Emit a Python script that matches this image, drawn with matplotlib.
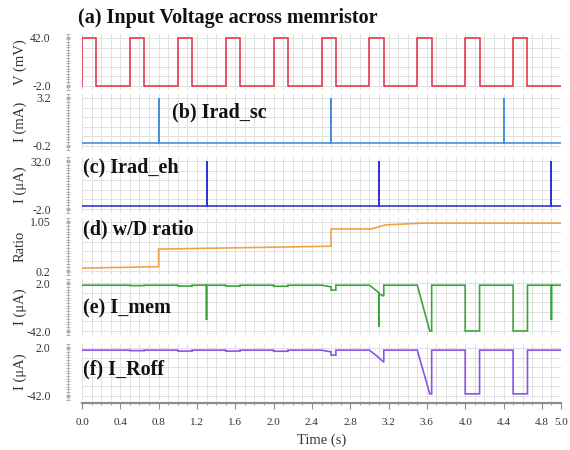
import numpy as np
import matplotlib
matplotlib.use('Agg')
import matplotlib.pyplot as plt
from matplotlib.ticker import MultipleLocator, FixedLocator

plt.rcParams['font.family'] = ['Liberation Serif', 'DejaVu Serif']

# ---------------- data ----------------
t_end = 5.0
pulse_on = [0.0, 0.5, 1.0, 1.5, 2.0, 2.5, 3.0, 3.5, 4.0, 4.5]
pulse_off = [0.15, 0.65, 1.15, 1.65, 2.15, 2.65, 3.15, 3.65, 4.15, 4.65]
v_high = 42.0
v_low = -2.0

sc_spike_t = [0.8, 2.6, 4.4]
sc_peak = 3.2
sc_base = 0.0

eh_spike_t = [1.3, 3.1, 4.9]
eh_peak = 32.0
eh_base = 0.0

ratio_t = [0.0, 0.8, 0.8, 2.6, 2.6, 3.02, 3.17, 3.55, 5.0]
ratio_v = [0.25, 0.275, 0.58, 0.63, 0.93, 0.93, 1.0, 1.03, 1.03]

imem_t = [0.0,
          0.5, 0.5, 0.65, 0.65,
          1.0, 1.0, 1.15, 1.15,
          1.3, 1.3, 1.3,
          1.5, 1.5, 1.65, 1.65,
          2.0, 2.0, 2.15, 2.15,
          2.5, 2.6, 2.6, 2.65, 2.65,
          3.0, 3.1, 3.1, 3.1, 3.15, 3.15,
          3.5, 3.63, 3.65, 3.65,
          4.0, 4.0, 4.15, 4.15,
          4.5, 4.5, 4.65, 4.65,
          4.9, 4.9, 4.9,
          5.0]
imem_v = [0.0,
          0.0, -0.4, -0.4, 0.0,
          0.0, -0.8, -0.8, 0.0,
          0.0, -32.0, 0.0,
          0.0, -0.8, -0.8, 0.0,
          0.0, -1.0, -1.0, 0.0,
          0.0, -1.5, -4.5, -4.5, 0.0,
          0.0, -7.0, -38.0, -8.0, -10.0, 0.0,
          0.0, -42.0, -42.0, 0.0,
          0.0, -42.0, -42.0, 0.0,
          0.0, -42.0, -42.0, 0.0,
          0.0, -32.0, 0.0,
          0.0]

iroff_t = [0.0,
           0.5, 0.5, 0.65, 0.65,
           1.0, 1.0, 1.15, 1.15,
           1.5, 1.5, 1.65, 1.65,
           2.0, 2.0, 2.15, 2.15,
           2.5, 2.6, 2.6, 2.65, 2.65,
           3.0, 3.08, 3.15, 3.15,
           3.5, 3.63, 3.65, 3.65,
           4.0, 4.0, 4.15, 4.15,
           4.5, 4.5, 4.65, 4.65,
           5.0]
iroff_v = [0.0,
           0.0, -0.4, -0.4, 0.0,
           0.0, -0.8, -0.8, 0.0,
           0.0, -0.8, -0.8, 0.0,
           0.0, -1.0, -1.0, 0.0,
           0.0, -1.5, -4.5, -4.5, 0.0,
           0.0, -5.5, -11.0, 0.0,
           0.0, -40.0, -40.0, 0.0,
           0.0, -40.0, -40.0, 0.0,
           0.0, -40.0, -40.0, 0.0,
           0.0]

# y-range labels (lo, hi) and their text
ylims = [(-2.0, 42.0), (-0.2, 3.2), (-2.0, 32.0), (0.2, 1.05), (-42.0, 2.0), (-42.0, 2.0)]
ytick_text = [('-2.0', '42.0'), ('-0.2', '3.2'), ('-2.0', '32.0'), ('0.2', '1.05'),
              ('-42.0', '2.0'), ('-42.0', '2.0')]
ylabels = ['V (mV)', 'I (mA)', 'I (\u03bcA)', 'Ratio', 'I (\u03bcA)', 'I (\u03bcA)']
titles = [None, '(b) Irad_sc', '(c) Irad_eh', '(d) w/D ratio', '(e) I_mem', '(f) I_Roff']
colors = ['#e8394a', '#4a8fdc', '#3535d5', '#f0a248', '#3aa63a', '#8c52e6']
xtick_vals = [0.0, 0.4, 0.8, 1.2, 1.6, 2.0, 2.4, 2.8, 3.2, 3.6, 4.0, 4.4, 4.8, 5.0]

# ---------------- build series ----------------
def square_wave(on, off, hi, lo, tend):
    t = [0.0]
    v = [lo]
    for a, b in zip(on, off):
        t += [a, a, b, b]
        v += [lo, hi, hi, lo]
    t.append(tend)
    v.append(lo)
    return t, v

def spikes(times, peak, base, tend):
    t = [0.0]
    v = [base]
    for s in times:
        t += [s, s, s]
        v += [base, peak, base]
    t.append(tend)
    v.append(base)
    return t, v

va_t, va_v = square_wave(pulse_on, pulse_off, v_high, v_low, t_end)
sc_t, sc_v = spikes(sc_spike_t, sc_peak, sc_base, t_end)
eh_t, eh_v = spikes(eh_spike_t, eh_peak, eh_base, t_end)
series = [(va_t, va_v), (sc_t, sc_v), (eh_t, eh_v), (ratio_t, ratio_v),
          (imem_t, imem_v), (iroff_t, iroff_v)]

# ---------------- layout (pixels) ----------------
W, H = 570, 450
x0_px, x1_px = 82, 561
label_px = [(38, 86), (98, 146), (161, 209), (222, 271), (283, 331), (348, 396)]
title_px = [None, (172, 112), (83, 167), (83, 229), (83, 308), (83, 369)]

fig = plt.figure(figsize=(W / 100, H / 100), dpi=100)
fig.patch.set_facecolor('white')

grid_c = '#e0e0e0'
axes = []
for i in range(6):
    top_px, bot_px = label_px[i]
    lo, hi = ylims[i]
    pad_px = 4
    ax = fig.add_axes([x0_px / W, 1 - (bot_px + pad_px) / H,
                       (x1_px - x0_px) / W, (bot_px - top_px + 2 * pad_px) / H])
    pad = (hi - lo) * pad_px / (bot_px - top_px)
    ax.set_ylim(lo - pad, hi + pad)
    ax.set_xlim(0, t_end)
    ax.set_facecolor('none')

    # grid
    ax.xaxis.set_major_locator(FixedLocator(xtick_vals))
    ax.xaxis.set_minor_locator(MultipleLocator(0.1))
    ax.grid(which='both', axis='x', color=grid_c, lw=0.7, zorder=0)
    ax.hlines(np.linspace(lo, hi, 6), 0, t_end, color=grid_c, lw=0.7, zorder=0)

    t, v = series[i]
    ax.plot(t, v, color=colors[i], lw=1.2, zorder=3, solid_joinstyle='miter')

    # spines
    for s in ['top', 'right']:
        ax.spines[s].set_visible(False)
    ax.spines['left'].set_position(('outward', 10))
    ax.spines['left'].set_color('#b5b5b5')
    ax.spines['left'].set_linewidth(0.8)
    ax.set_yticks([lo, hi])
    ax.set_yticklabels(list(ytick_text[i]))
    ax.yaxis.set_minor_locator(FixedLocator(np.linspace(lo - pad, hi + pad, 22)))
    ax.tick_params(axis='y', which='major', length=3, direction='inout', color='#a0a0a0',
                   width=0.6, pad=11, labelsize=8.5, labelcolor='#333333')
    ax.tick_params(axis='y', which='minor', length=3, direction='inout', color='#a0a0a0',
                   width=0.6)
    ax.set_ylabel(ylabels[i], fontsize=10.5, color='#333333')
    ax.yaxis.set_label_coords((27 - x0_px) / (x1_px - x0_px), 0.5)

    if i < 5:
        ax.spines['bottom'].set_visible(False)
        ax.tick_params(axis='x', which='both', length=0, labelbottom=False)
    else:
        ax.spines['bottom'].set_position(('outward', 2))
        ax.spines['bottom'].set_color('#8c8c8c')
        ax.spines['bottom'].set_linewidth(1.6)
        ax.set_xticklabels(['%.1f' % x for x in xtick_vals])
        ax.tick_params(axis='x', which='major', length=4, direction='out', color='#8c8c8c',
                       width=0.8, pad=7, labelsize=8, labelcolor='#333333')
        ax.tick_params(axis='x', which='minor', length=3, direction='inout', color='#8c8c8c',
                       width=0.6)
        ax.set_xlabel('Time (s)', fontsize=10.5, color='#333333', labelpad=5)
    axes.append(ax)

    if titles[i] is not None:
        tx, ty = title_px[i]
        fig.text(tx / W, 1 - ty / H, titles[i], fontsize=14.5, fontweight='bold',
                 va='center', ha='left', color='#111111', zorder=5)

fig.text(78 / W, 1 - 18 / H, '(a) Input Voltage across memristor', fontsize=14.5,
         fontweight='bold', va='center', ha='left', color='#111111')

fig.savefig('out.png', dpi=100, facecolor='white')
